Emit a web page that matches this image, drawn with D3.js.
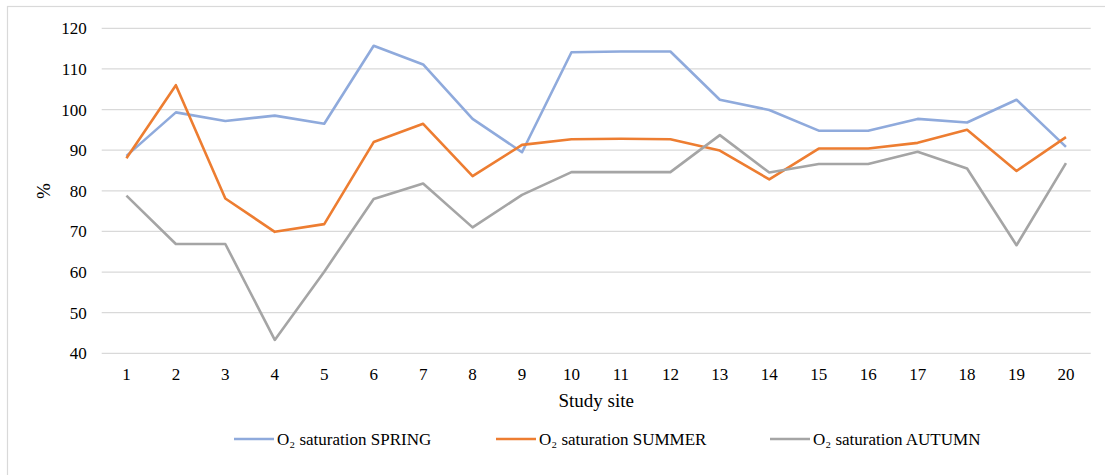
<!DOCTYPE html>
<html>
<head>
<meta charset="utf-8">
<script src="https://cdn.jsdelivr.net/npm/d3@7"></script>
<style>
  body { margin: 0; background: #fff; }
</style>
</head>
<body>
<svg id="chart" width="1105" height="475"></svg>
<script>
const sites = d3.range(1, 21).map(String);
const yTicks = [40, 50, 60, 70, 80, 90, 100, 110, 120];

const spring = [88.6, 99.3, 97.2, 98.5, 96.5, 115.7, 111.1, 97.7, 89.5, 114.1,
                114.3, 114.3, 102.4, 99.9, 94.8, 94.8, 97.7, 96.8, 102.4, 90.8];
const summer = [88.0, 106.0, 78.1, 69.9, 71.8, 92.0, 96.5, 83.6, 91.3, 92.7,
                92.8, 92.7, 89.9, 82.8, 90.4, 90.4, 91.8, 95.0, 84.9, 93.2];
const autumn = [78.8, 66.9, 66.9, 43.3, 60.1, 78.0, 81.8, 71.0, 79.0, 84.6,
                84.6, 84.6, 93.7, 84.5, 86.6, 86.6, 89.6, 85.5, 66.6, 86.8];

const seriesNames = ['O₂ saturation SPRING', 'O₂ saturation SUMMER', 'O₂ saturation AUTUMN'];
const colors = ['#8FAADC', '#ED7D31', '#A5A5A5'];

const series = [spring, summer, autumn].map((vals, i) => ({name: seriesNames[i], color: colors[i], values: vals}));

const font = "'Liberation Serif', 'Times New Roman', serif";

const svg = d3.select('#chart');

// outer chart frame (right/bottom edges fall outside the picture)
svg.append('rect')
  .attr('x', 7.5).attr('y', 6.5)
  .attr('width', 1110).attr('height', 480)
  .attr('fill', 'none')
  .attr('stroke', '#d9d9d9')
  .attr('stroke-width', 1.2);

const plot = {left: 101.7, right: 1090.7, top: 28.3, bottom: 353.3};

const x = d3.scaleBand()
  .domain(sites)
  .range([plot.left, plot.right])
  .padding(0);

const y = d3.scaleLinear()
  .domain([40, 120])
  .range([plot.bottom, plot.top]);

// gridlines
svg.append('g')
  .selectAll('line')
  .data(yTicks)
  .enter()
  .append('line')
    .attr('x1', plot.left)
    .attr('x2', plot.right)
    .attr('y1', d => y(d))
    .attr('y2', d => y(d))
    .attr('stroke', '#d9d9d9')
    .attr('stroke-width', 1.3);

// y axis labels
const yAxis = svg.append('g')
  .attr('transform', `translate(${plot.left}, 0)`)
  .call(d3.axisLeft(y).tickValues(yTicks).tickSize(0).tickPadding(15));
yAxis.select('.domain').remove();
yAxis.attr('font-family', null).attr('font-size', null);
yAxis.selectAll('text')
  .style('font-family', font)
  .style('font-size', '17px')
  .attr('fill', '#000');

// x axis labels
const xAxis = svg.append('g')
  .attr('transform', `translate(0, ${plot.bottom})`)
  .call(d3.axisBottom(x).tickSize(0).tickPadding(15));
xAxis.select('.domain').remove();
xAxis.attr('font-family', null).attr('font-size', null);
xAxis.selectAll('text')
  .style('font-family', font)
  .style('font-size', '17px')
  .attr('fill', '#000');

// axis titles
svg.append('text')
  .text('Study site')
  .attr('x', (plot.left + plot.right) / 2)
  .attr('y', 407)
  .attr('text-anchor', 'middle')
  .style('font-family', font)
  .style('font-size', '19px');

svg.append('text')
  .text('%')
  .attr('transform', 'translate(50, 191) rotate(-90)')
  .attr('text-anchor', 'middle')
  .style('font-family', font)
  .style('font-size', '19px');

// lines
const line = d3.line()
  .x((d, i) => x(sites[i]) + x.bandwidth() / 2)
  .y(d => y(d));

svg.append('g')
  .selectAll('path')
  .data(series)
  .enter()
  .append('path')
    .attr('d', d => line(d.values))
    .attr('fill', 'none')
    .attr('stroke', d => d.color)
    .attr('stroke-width', 2.6)
    .attr('stroke-linejoin', 'round');

// legend
const legendX = [234, 496, 770];
const legend = svg.append('g')
  .selectAll('g')
  .data(series)
  .enter()
  .append('g')
    .attr('transform', (d, i) => `translate(${legendX[i]}, 439)`);

legend.append('line')
  .attr('x1', 0).attr('x2', 40)
  .attr('y1', 0).attr('y2', 0)
  .attr('stroke', d => d.color)
  .attr('stroke-width', 2.6);

legend.append('text')
  .text(d => d.name)
  .attr('x', 43)
  .attr('y', 6)
  .style('font-family', font)
  .style('font-size', '17px');
</script>
</body>
</html>
